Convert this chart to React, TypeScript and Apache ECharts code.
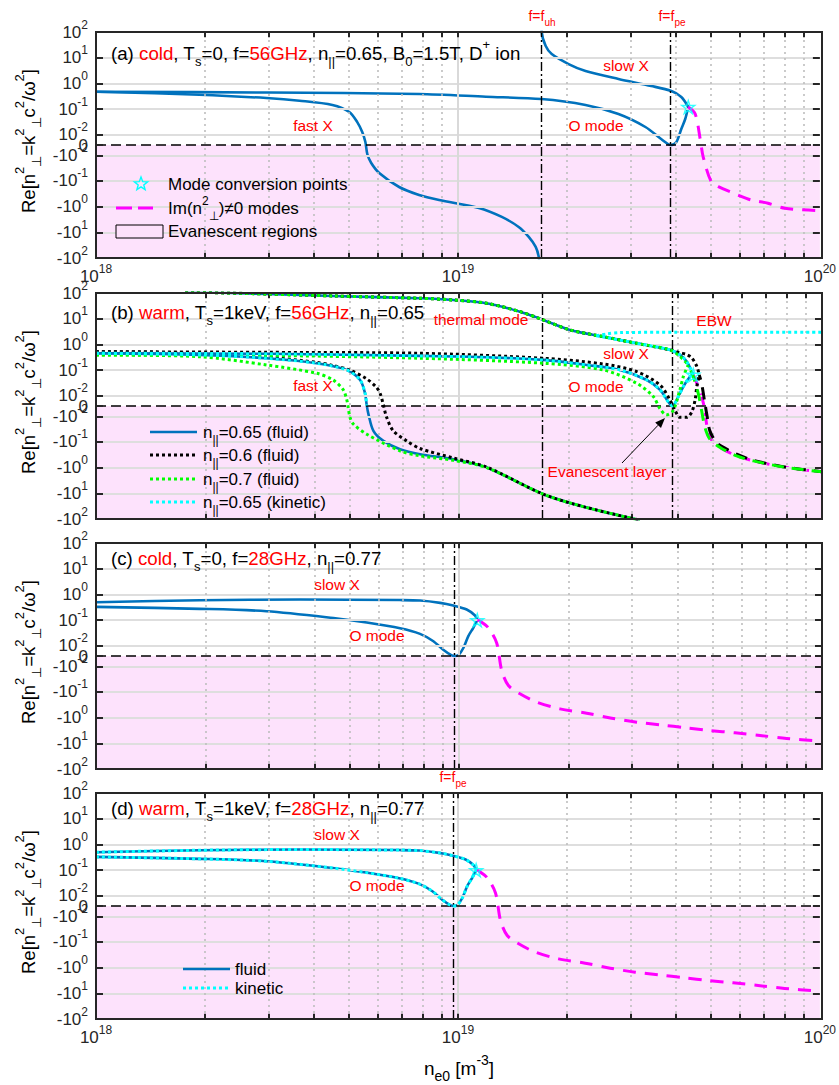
import React, { useEffect, useRef } from 'react';
import * as echarts from 'echarts';

// Densities are in units of 1e18 m^-3, the second entry is Re[n_perp^2].

const X_MIN = 1e18;
const X_MAX = 1e20;
const Y_TICK_VALUES = [100, 10, 1, 0.1, 0.01, 0, -0.01, -0.1, -1, -10, -100];
const MINOR_DENSITIES = [2, 3, 4, 5, 6, 7, 8, 9, 20, 30, 40, 50, 60, 70, 80, 90];

// characteristic densities (1e18 m^-3)
const N_UH_56 = 17.0;
const N_PE_56 = 38.7;
const N_PE_28 = 9.7;

// ---- (a) cold plasma, 56 GHz, n_par = 0.65 ----
const coldA_fastX = [[1, 0.472], [1.93, 0.361], [2.96, 0.268], [3.65, 0.211], [4.5, 0.144], [5.01, 0.077], [5.27, 0.031], [5.44, 0.0128], [5.55, 0.003], [5.62, -0.009], [5.76, -0.02], [6.06, -0.049], [6.88, -0.172], [7.81, -0.351], [8.87, -0.55], [11.43, -1.13], [13.22, -2.52], [14.72, -6.18], [15.69, -15.1], [16.4, -37], [16.72, -91], [16.9, -400]];
const coldA_O = [[1, 0.472], [3.0, 0.44], [7.81, 0.385], [11.95, 0.302], [17.0, 0.245], [22.52, 0.144], [27.77, 0.064], [32.96, 0.02], [36.5, 0.0056], [38.7, 0], [40.11, 0.0026], [41.41, 0.0167], [42.46, 0.041], [43.29, 0.12]];
const coldA_slowX = [[17.0, 400], [17.04, 99], [17.48, 28.4], [18.16, 13.8], [20.22, 5.65], [22.52, 3.02], [27.77, 1.48], [34.2, 0.79], [38.87, 0.5], [41.41, 0.294], [43.29, 0.12]];
const coldA_complex = [[43.29, 0.12], [45.25, 0.064], [46.71, 0.0056], [47.61, -0.0117], [50.1, -0.107], [52.4, -0.167], [59.4, -0.351], [64.6, -0.55], [71.9, -0.74], [80.1, -1.16], [100, -1.44]];
const coldA_conversion = [[43.29, 0.12]];

// ---- (b) warm plasma, 56 GHz ----
const warmB_fast065 = [[1, 0.45], [1.93, 0.388], [2.95, 0.288], [4.05, 0.184], [4.91, 0.101], [5.34, 0.041], [5.51, 0.0125], [5.57, 0.0006], [5.63, -0.0079], [5.81, -0.037], [6.19, -0.091], [6.88, -0.192], [7.81, -0.3], [9.64, -0.47], [11.92, -0.99], [17.07, -10.8], [22.47, -35.7], [31.5, -111]];
const warmB_O065 = [[1, 0.45], [3.0, 0.43], [7.81, 0.355], [11.92, 0.315], [17.07, 0.248], [22.47, 0.158], [27.77, 0.101], [32.9, 0.041], [35.8, 0.0169], [37.7, 0.004], [38.7, 0], [40.2, 0.0092], [41.5, 0.0228], [43.3, 0.0557], [44.2, 0.065]];
const warmB_slow065 = [[1.76, 110], [2.95, 91.7], [4.5, 76.7], [7.81, 62.2], [9.64, 53.5], [11.92, 39.7], [14.72, 18.8], [17.07, 8.9], [20.22, 3.64], [24.97, 2.0], [30.86, 1.1], [38.14, 0.61], [40.63, 0.39], [42.4, 0.214], [44.2, 0.065]];
const warmB_complex065 = [[44.2, 0.065], [45.2, 0.0306], [46.6, 0.0092], [47.6, -0.0045], [48.1, -0.0204], [49.1, -0.0675], [52.4, -0.165], [58.2, -0.347], [64.7, -0.546], [79.9, -0.99], [100, -1.46]];

const warmB_fast060 = [[1, 0.52], [1.93, 0.45], [2.95, 0.32], [4.05, 0.2], [4.5, 0.15], [5.0, 0.1], [5.57, 0.045], [5.91, 0.022], [6.06, 0.0125], [6.19, 0.001], [6.32, -0.011], [6.59, -0.037], [7.18, -0.091], [7.81, -0.18], [9.64, -0.42], [11.92, -0.95], [17.07, -10.8], [22.47, -35.7], [31.5, -111]];
const warmB_O060 = [[1, 0.52], [2.95, 0.49], [7.81, 0.45], [17.07, 0.288], [24.97, 0.172], [30.86, 0.087], [35.8, 0.026], [38.14, 0.0057], [39.4, -0.0045], [40.6, -0.011], [42.4, -0.011], [43.75, -0.006], [44.7, 0.0057], [45.2, 0.0228], [45.9, 0.0646]];
const warmB_slow060 = [[1.76, 110], [2.95, 91.7], [4.5, 76.7], [7.81, 62.2], [9.64, 53.5], [11.92, 39.7], [14.72, 18.8], [17.07, 8.9], [20.22, 3.64], [24.97, 2.0], [30.86, 1.1], [38.14, 0.61], [40.6, 0.47], [42.4, 0.4], [43.75, 0.3], [45.2, 0.14], [45.9, 0.065]];
const warmB_complex060 = [[45.9, 0.065], [46.6, 0.03], [47.6, 0.0023], [48.3, -0.011], [49.1, -0.037], [51.2, -0.105], [54.6, -0.19], [58.2, -0.3], [64.7, -0.52], [79.9, -0.97], [100, -1.44]];

const warmB_fast070 = [[1, 0.388], [1.93, 0.33], [2.95, 0.158], [4.05, 0.075], [4.5, 0.041], [4.8, 0.0169], [4.91, 0.0057], [4.95, -0.0011], [5.01, -0.0112], [5.12, -0.0204], [5.57, -0.05], [6.88, -0.223], [7.81, -0.347], [9.64, -0.52], [11.92, -1.0], [17.07, -10.8], [22.47, -35.7], [31.5, -111]];
const warmB_O070 = [[1, 0.388], [2.95, 0.37], [7.81, 0.288], [17.07, 0.184], [24.97, 0.101], [30.86, 0.0306], [34.3, 0.0092], [35.8, -0.0028], [37.3, -0.0086], [38.9, -0.0045], [40.6, 0.0169], [41.5, 0.0557], [42.8, 0.158]];
const warmB_slow070 = [[1.76, 110], [2.95, 91.7], [4.5, 76.7], [7.81, 62.2], [9.64, 53.5], [11.92, 39.7], [14.72, 18.8], [17.07, 8.9], [20.22, 3.64], [24.97, 2.0], [30.86, 1.1], [38.14, 0.61], [40.6, 0.34], [42.8, 0.158]];
const warmB_complex070 = [[42.8, 0.158], [44.2, 0.0557], [45.6, 0.0125], [46.6, -0.0045], [47.6, -0.0275], [49.1, -0.078], [52.4, -0.165], [58.2, -0.347], [64.7, -0.546], [79.9, -0.99], [100, -1.46]];

const kineticB_fastX = [[1, 0.45], [1.93, 0.388], [2.95, 0.288], [4.05, 0.184], [4.91, 0.101], [5.34, 0.041], [5.51, 0.0125], [5.57, 0.0006]];
const kineticB_O = [[1, 0.45], [3.0, 0.43], [7.81, 0.355], [11.92, 0.315], [17.07, 0.248], [22.47, 0.158], [27.77, 0.101], [32.9, 0.041], [35.8, 0.0169], [37.7, 0.004], [38.7, 0], [40.2, 0.0092], [41.5, 0.0228], [43.3, 0.0557], [44.2, 0.065]];
const kineticB_slowX = [[23.9, 2.15], [24.97, 1.95], [30.86, 1.1], [38.14, 0.61], [40.63, 0.39], [42.4, 0.214], [44.2, 0.065]];
const kineticB_EBW = [[23.9, 2.15], [25.5, 2.55], [27.8, 2.87], [40, 2.95], [100, 2.95]];
const warmB_conversion = [[44.2, 0.065]];

// ---- (c) cold and (d) warm, 28 GHz, n_par = 0.77 ----
const cold28_slowX = [[1, 0.495], [1.93, 0.59], [3.65, 0.63], [6.88, 0.6], [7.81, 0.575], [8.87, 0.467], [9.64, 0.368], [10.5, 0.257], [11.07, 0.15], [11.23, 0.099]];
const cold28_O = [[1, 0.325], [1.93, 0.273], [2.95, 0.221], [4.51, 0.12], [5.57, 0.08], [6.88, 0.048], [7.81, 0.029], [8.5, 0.015], [9.05, 0.0061], [9.55, 0.0005], [9.72, 0], [9.96, 0.0008], [10.28, 0.0078], [10.61, 0.0238], [10.95, 0.05], [11.23, 0.099]];
const cold28_complex = [[11.23, 0.099], [11.43, 0.091], [12.04, 0.05], [12.7, 0.0128], [13.11, -0.0146], [13.68, -0.056], [14.72, -0.118], [16.37, -0.25], [18.97, -0.455], [22.47, -0.669], [26.34, -1.05], [30.86, -1.5], [35.8, -1.9], [42.4, -2.49], [49.1, -3.16], [57.6, -3.89], [67.5, -4.94], [79.9, -6.46], [100, -8.2]];
const cold28_conversion = [[11.23, 0.099]];
const warm28_slowX = [[1, 0.495], [1.93, 0.59], [3.65, 0.63], [6.88, 0.6], [7.81, 0.575], [8.87, 0.467], [9.64, 0.368], [10.5, 0.257], [11.07, 0.15], [11.23, 0.099]];
const warm28_O = [[1, 0.325], [1.93, 0.273], [2.95, 0.221], [4.51, 0.12], [5.57, 0.08], [6.88, 0.048], [7.81, 0.029], [8.5, 0.015], [9.05, 0.0061], [9.55, 0.0005], [9.72, 0], [9.96, 0.0008], [10.28, 0.0078], [10.61, 0.0238], [10.95, 0.05], [11.23, 0.099]];
const warm28_complex = cold28_complex;
const warm28_conversion = cold28_conversion;

// ---------------- styling ----------------
const FONT = "'Liberation Sans', Arial, Helvetica, sans-serif";
const INK = '#262626';
const RED = '#FF0000';
const BLUE = '#0072BD';
const CYAN = '#00FFFF';
const GREEN = '#00FF00';
const MAGENTA = '#FF00FF';

const WIDTH = 839;
const HEIGHT = 1085;
const PLOT_LEFT = 96;
const PLOT_W = 726;
const PLOT_H = 226;
const PANEL_TOPS = [32, 293, 543, 793];

// symmetric-log mapping: one unit per decade, linear band of GAP units for |v| < 1e-2
const GAP = 0.4;
const Y_LIM = 4 + GAP;
function symlog(v: number): number {
  const a = Math.abs(v);
  if (a < 0.01) return (v / 0.01) * GAP;
  return Math.sign(v) * (Math.log10(a) + 2 + GAP);
}

const STAR_PATH = 'path://M50,2 L61.2,36.4 L97.5,36.4 L68.2,57.7 L79.4,92.1 L50,70.9 L20.6,92.1 L31.8,57.7 L2.5,36.4 L38.8,36.4 Z';

type Seg = [string, string];
const rt = (segs: Seg[]) => segs.map(([t, k]) => `{${k}|${t}}`).join('');

function zrRich(F: number) {
  const S = Math.round(F * 0.72);
  const LH = Math.round(F * 1.6);
  const base = { fontSize: F, lineHeight: LH, fontFamily: FONT };
  const small = { fontSize: S, lineHeight: S + 1, fontFamily: FONT };
  return {
    b: { ...base, fill: '#000' },
    r: { ...base, fill: RED },
    p: { ...small, fill: '#000', verticalAlign: 'top' },
    s: { ...small, fill: '#000', verticalAlign: 'bottom' },
    rs: { ...small, fill: RED, verticalAlign: 'bottom' },
  };
}

function txt(segs: Seg[], x: number, y: number, F: number, align = 'left', rotation = 0) {
  return {
    type: 'text', x, y, rotation, z: 120, silent: true,
    style: { text: rt(segs), rich: zrRich(F), align, verticalAlign: 'middle', fontFamily: FONT, fontSize: F },
  };
}

function axisRich(F: number) {
  const S = Math.round(F * 0.72);
  return {
    b: { fontSize: F, lineHeight: Math.round(F * 1.6), color: INK, fontFamily: FONT },
    p: { fontSize: S, lineHeight: S + 1, color: INK, fontFamily: FONT, verticalAlign: 'top' },
  };
}

function yLabel(v: number): string {
  for (const t of Y_TICK_VALUES) {
    if (Math.abs(symlog(t) - v) < 1e-6) {
      if (t === 0) return '{b|0}';
      const e = Math.round(Math.log10(Math.abs(t)));
      return `{b|${t < 0 ? '-' : ''}10}{p|${e}}`;
    }
  }
  return '';
}

function xLabel(v: number): string {
  const e = v > 1000 ? Math.round(Math.log10(v)) : Math.round(v);
  return `{b|10}{p|${e}}`;
}

const pts = (arr: number[][]) => arr.map(([n, v]) => [n * 1e18, symlog(v)]);

function curve(g: number, data: number[][], color: string, width: number, type: any, z = 4, dashOffset = 0) {
  return {
    type: 'line', xAxisIndex: g, yAxisIndex: g, data: pts(data),
    symbol: 'none', showSymbol: false, smooth: 0.3,
    silent: true, z, emphasis: { disabled: true },
    lineStyle: { color, width, type, dashOffset, cap: 'butt', join: 'round' },
  };
}

function conversion(g: number, data: number[][]) {
  return {
    type: 'scatter', xAxisIndex: g, yAxisIndex: g, data: pts(data),
    symbol: STAR_PATH, symbolSize: 13, silent: true, z: 8,
    itemStyle: { color: 'rgba(0,0,0,0)', borderColor: CYAN, borderWidth: 1.4 },
  };
}

function panelDecor(g: number, resonances: number[]) {
  const minor = MINOR_DENSITIES.map((k) => k * 1e18);
  const tickLenX = 0.2;
  const tickFactor = Math.pow(10, (7 / PLOT_W) * 2);
  const tickSegs: any[] = [];
  [...minor, 1e19].forEach((x) => {
    tickSegs.push([{ coord: [x, -Y_LIM] }, { coord: [x, -Y_LIM + tickLenX] }]);
    tickSegs.push([{ coord: [x, Y_LIM] }, { coord: [x, Y_LIM - tickLenX] }]);
  });
  Y_TICK_VALUES.filter((t) => Math.abs(t) !== 100).forEach((t) => {
    const y = symlog(t);
    tickSegs.push([{ coord: [X_MIN, y] }, { coord: [X_MIN * tickFactor, y] }]);
    tickSegs.push([{ coord: [X_MAX / tickFactor, y] }, { coord: [X_MAX, y] }]);
  });
  const base = { type: 'line', xAxisIndex: g, yAxisIndex: g, data: [], silent: true, symbol: 'none' };
  return [
    {
      ...base, z: 1,
      markLine: {
        silent: true, animation: false, symbol: ['none', 'none'], label: { show: false },
        data: [
          ...Y_TICK_VALUES.filter((t) => t !== 0 && Math.abs(t) !== 100).map((t) => ({
            yAxis: symlog(t), lineStyle: { color: '#DEDEDE', width: 1.8, type: 'solid' },
          })),
          ...minor.map((x) => ({ xAxis: x, lineStyle: { color: '#BEBEBE', width: 1.6, type: [2, 4] } })),
          { xAxis: 1e19, lineStyle: { color: '#D9D9D9', width: 2, type: 'solid' } },
        ],
      },
    },
    {
      ...base, z: 2,
      markArea: {
        silent: true, animation: false,
        itemStyle: { color: 'rgba(240,0,230,0.115)' },
        data: [[{ yAxis: -Y_LIM }, { yAxis: 0 }]],
      },
    },
    {
      ...base, z: 3,
      markLine: {
        silent: true, animation: false, symbol: ['none', 'none'], label: { show: false },
        data: [
          { yAxis: 0, lineStyle: { color: '#000', width: 1.6, type: [10, 5] } },
          ...resonances.map((n) => ({ xAxis: n * 1e18, lineStyle: { color: '#000', width: 1.4, type: [9, 3, 2, 3] } })),
        ],
      },
    },
    {
      ...base, z: 9,
      markLine: {
        silent: true, animation: false, symbol: ['none', 'none'], label: { show: false },
        lineStyle: { color: INK, width: 2, type: 'solid' },
        data: tickSegs,
      },
    },
  ];
}

function starPoints(cx: number, cy: number, R: number) {
  const p: number[][] = [];
  for (let i = 0; i < 10; i++) {
    const r = i % 2 === 0 ? R : R * 0.42;
    const a = -Math.PI / 2 + (i * Math.PI) / 5;
    p.push([cx + r * Math.cos(a), cy + r * Math.sin(a)]);
  }
  return p;
}

function legendLine(x1: number, x2: number, y: number, color: string, width: number, dash: any) {
  return { type: 'line', z: 120, silent: true, shape: { x1, y1: y, x2, y2: y }, style: { stroke: color, lineWidth: width, lineDash: dash, lineCap: 'butt' } };
}

function arrow(x1: number, y1: number, x2: number, y2: number) {
  const a = Math.atan2(y2 - y1, x2 - x1);
  const len = 10;
  const hw = 4;
  const bx = x2 - len * Math.cos(a);
  const by = y2 - len * Math.sin(a);
  const nx = -Math.sin(a);
  const ny = Math.cos(a);
  return [
    { type: 'line', z: 120, silent: true, shape: { x1, y1, x2: bx, y2: by }, style: { stroke: '#000', lineWidth: 1 } },
    { type: 'polygon', z: 120, silent: true, shape: { points: [[x2, y2], [bx + nx * hw, by + ny * hw], [bx - nx * hw, by - ny * hw]] }, style: { fill: '#000' } },
  ];
}

const Y_NAME: Seg[] = [['Re[n', 'b'], ['2', 'p'], ['⊥', 's'], ['=k', 'b'], ['2', 'p'], ['⊥', 's'], ['c', 'b'], ['2', 'p'], ['/ω', 'b'], ['2', 'p'], [']', 'b']];

function buildOption() {
  const grids = PANEL_TOPS.map((top) => ({ left: PLOT_LEFT, top, width: PLOT_W, height: PLOT_H, containLabel: false }));
  const xAxes = PANEL_TOPS.map((_, i) => ({
    type: 'log', logBase: 10, min: X_MIN, max: X_MAX, gridIndex: i,
    axisLine: { show: false }, axisTick: { show: false }, splitLine: { show: false },
    minorTick: { show: false }, minorSplitLine: { show: false },
    axisLabel: { show: i === 0 || i === 3, formatter: xLabel, rich: axisRich(17), margin: 5 },
  }));
  const yAxes = PANEL_TOPS.map((_, i) => ({
    type: 'value', min: -Y_LIM, max: Y_LIM, interval: 0.2, gridIndex: i,
    axisLine: { show: false }, axisTick: { show: false }, splitLine: { show: false },
    axisLabel: { formatter: yLabel, rich: axisRich(17), margin: 8 },
  }));

  const series: any[] = [
    ...panelDecor(0, [N_UH_56, N_PE_56]),
    ...panelDecor(1, [N_UH_56, N_PE_56]),
    ...panelDecor(2, [N_PE_28]),
    ...panelDecor(3, [N_PE_28]),

    // (a)
    curve(0, coldA_fastX, BLUE, 2.6, 'solid'),
    curve(0, coldA_O, BLUE, 2.6, 'solid'),
    curve(0, coldA_slowX, BLUE, 2.6, 'solid'),
    curve(0, coldA_complex, MAGENTA, 3, [13, 9], 5),
    conversion(0, coldA_conversion),

    // (b)
    curve(1, warmB_fast065, BLUE, 2.6, 'solid'),
    curve(1, warmB_O065, BLUE, 2.6, 'solid'),
    curve(1, warmB_slow065, BLUE, 2.6, 'solid'),
    curve(1, warmB_complex065, MAGENTA, 3, [12, 8], 4),
    curve(1, warmB_fast060, '#000', 3, [3, 3], 5),
    curve(1, warmB_O060, '#000', 3, [3, 3], 5),
    curve(1, warmB_slow060, '#000', 3, [3, 3], 5),
    curve(1, warmB_complex060, '#000', 3, [12, 8], 5, 7),
    curve(1, warmB_fast070, GREEN, 3, [3, 3], 6),
    curve(1, warmB_O070, GREEN, 3, [3, 3], 6),
    curve(1, warmB_slow070, GREEN, 3, [3, 3], 6),
    curve(1, warmB_complex070, GREEN, 3, [12, 8], 6, 14),
    curve(1, kineticB_fastX, CYAN, 3, [3, 3], 7),
    curve(1, kineticB_O, CYAN, 3, [3, 3], 7),
    curve(1, kineticB_slowX, CYAN, 3, [3, 3], 7),
    curve(1, kineticB_EBW, CYAN, 3, [3, 3], 7),
    conversion(1, warmB_conversion),

    // (c)
    curve(2, cold28_slowX, BLUE, 2.6, 'solid'),
    curve(2, cold28_O, BLUE, 2.6, 'solid'),
    curve(2, cold28_complex, MAGENTA, 3, [13, 9], 5),
    conversion(2, cold28_conversion),

    // (d)
    curve(3, warm28_slowX, BLUE, 2.6, 'solid'),
    curve(3, warm28_O, BLUE, 2.6, 'solid'),
    curve(3, warm28_slowX, CYAN, 3, [3, 3], 6),
    curve(3, warm28_O, CYAN, 3, [3, 3], 6),
    curve(3, warm28_complex, MAGENTA, 3, [13, 9], 5),
    conversion(3, warm28_conversion),
  ];

  const TITLE_F = 18.7;
  const NOTE_F = 15.5;
  const LEG_F = 17;
  const graphics: any[] = [];

  // frames and y-axis names
  PANEL_TOPS.forEach((top) => {
    graphics.push({ type: 'rect', z: 110, silent: true, shape: { x: PLOT_LEFT, y: top, width: PLOT_W, height: PLOT_H }, style: { fill: 'none', stroke: INK, lineWidth: 2 } });
    graphics.push(txt(Y_NAME, 28, top + PLOT_H / 2 - 4, 18.5, 'center', Math.PI / 2));
  });

  // panel titles
  graphics.push(txt([['(a) ', 'b'], ['cold', 'r'], [', T', 'b'], ['s', 's'], ['=0, f=', 'b'], ['56GHz', 'r'], [', n', 'b'], ['||', 's'], ['=0.65, B', 'b'], ['0', 's'], ['=1.5T, D', 'b'], ['+', 'p'], [' ion', 'b']], 111, 53, TITLE_F));
  graphics.push(txt([['(b) ', 'b'], ['warm', 'r'], [', T', 'b'], ['s', 's'], ['=1keV, f=', 'b'], ['56GHz', 'r'], [', n', 'b'], ['||', 's'], ['=0.65', 'b']], 111, 312, TITLE_F));
  graphics.push(txt([['(c) ', 'b'], ['cold', 'r'], [', T', 'b'], ['s', 's'], ['=0, f=', 'b'], ['28GHz', 'r'], [', n', 'b'], ['||', 's'], ['=0.77', 'b']], 111, 558, TITLE_F));
  graphics.push(txt([['(d) ', 'b'], ['warm', 'r'], [', T', 'b'], ['s', 's'], ['=1keV, f=', 'b'], ['28GHz', 'r'], [', n', 'b'], ['||', 's'], ['=0.77', 'b']], 111, 808, TITLE_F));

  // mode annotations
  const note = (s: string, x: number, y: number) => txt([[s, 'r']], x, y, NOTE_F, 'center');
  graphics.push(note('fast X', 313, 125), note('slow X', 626, 65), note('O mode', 596, 125));
  graphics.push(note('thermal mode', 481, 319), note('EBW', 714, 320), note('slow X', 626, 353), note('O mode', 596, 386), note('fast X', 313, 385), note('Evanescent layer', 607, 471));
  graphics.push(note('slow X', 337, 584), note('O mode', 377, 635));
  graphics.push(note('slow X', 337, 834), note('O mode', 377, 885));
  graphics.push(txt([['f=f', 'r'], ['uh', 'rs']], 542, 16, 14, 'center'));
  graphics.push(txt([['f=f', 'r'], ['pe', 'rs']], 672, 16, 14, 'center'));
  graphics.push(txt([['f=f', 'r'], ['pe', 'rs']], 453, 777, 14, 'center'));
  graphics.push(...arrow(622, 463, 665, 418));

  // legend (a)
  graphics.push({ type: 'polygon', z: 120, silent: true, shape: { points: starPoints(141, 184, 7) }, style: { fill: 'none', stroke: CYAN, lineWidth: 1.4 } });
  graphics.push(txt([['Mode conversion points', 'b']], 168, 184, LEG_F));
  graphics.push(legendLine(116, 153, 208, MAGENTA, 3, [16, 6]));
  graphics.push(txt([['Im(n', 'b'], ['2', 'p'], ['⊥', 's'], [')≠0 modes', 'b']], 168, 208, LEG_F));
  graphics.push({ type: 'rect', z: 120, silent: true, shape: { x: 116, y: 225, width: 47, height: 13 }, style: { fill: '#FDE1FB', stroke: '#000', lineWidth: 1 } });
  graphics.push(txt([['Evanescent regions', 'b']], 168, 231, LEG_F));

  // legend (b)
  const legB: [string, string, number, any][] = [
    ['=0.65 (fluid)', BLUE, 2.6, null],
    ['=0.6 (fluid)', '#000', 3, [3, 3]],
    ['=0.7 (fluid)', GREEN, 3, [3, 3]],
    ['=0.65 (kinetic)', CYAN, 3, [3, 3]],
  ];
  [432, 455, 479, 502].forEach((y, i) => {
    const [lab, col, w, dash] = legB[i];
    graphics.push(legendLine(150, 197, y, col, w, dash));
    graphics.push(txt([['n', 'b'], ['||', 's'], [lab, 'b']], 203, y, LEG_F));
  });

  // legend (d)
  graphics.push(legendLine(183, 230, 969, BLUE, 2.6, null));
  graphics.push(txt([['fluid', 'b']], 235, 969, LEG_F));
  graphics.push(legendLine(183, 230, 988, CYAN, 3, [3, 3]));
  graphics.push(txt([['kinetic', 'b']], 235, 988, LEG_F));

  // x-axis name
  graphics.push(txt([['n', 'b'], ['e0', 's'], [' [m', 'b'], ['-3', 'p'], [']', 'b']], 459, 1068, 19, 'center'));

  return {
    animation: false,
    backgroundColor: '#fff',
    textStyle: { fontFamily: FONT },
    grid: grids,
    xAxis: xAxes,
    yAxis: yAxes,
    series,
    graphic: { elements: graphics },
  };
}

export default function App() {
  const ref = useRef<HTMLDivElement>(null);
  useEffect(() => {
    if (!ref.current) return;
    const chart = echarts.init(ref.current, undefined, { renderer: 'svg', width: WIDTH, height: HEIGHT });
    chart.setOption(buildOption() as any);
    return () => chart.dispose();
  }, []);
  return (
    <div
      ref={ref}
      style={{ position: 'absolute', left: 0, top: 0, width: WIDTH, height: HEIGHT, background: '#fff' }}
    />
  );
}
